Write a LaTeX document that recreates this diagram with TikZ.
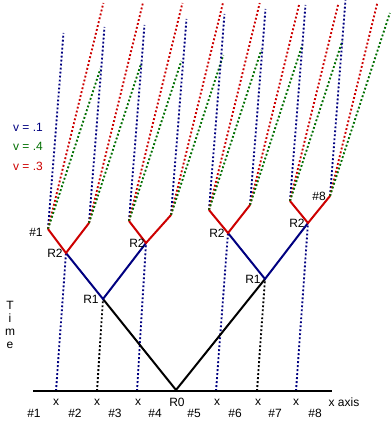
\documentclass[tikz,border=0pt]{standalone}
\usepackage{fontspec}
\setmainfont{Liberation Sans}
\usetikzlibrary{positioning}

\definecolor{navyblue}{RGB}{0,0,128}
\definecolor{darkred}{RGB}{205,0,0}
\definecolor{darkgreen}{RGB}{0,110,0}

\begin{document}
\begin{tikzpicture}[x=0.75pt,y=-0.75pt,
	solid/.style={line width=1.5pt},
	dots/.style={line width=1.4pt,dash pattern=on 1.4pt off 1.6pt},
	lbl/.style={font=\fontsize{9}{10}\selectfont,inner sep=0pt}]
	\useasboundingbox (0,0) rectangle (390,435);

	% collision points
	\coordinate (R0)  at (176,390);
	\coordinate (R1a) at (103,299);
	\coordinate (R1b) at (265,279);
	\coordinate (R2a) at (66,253);
	\coordinate (R2b) at (146,243);
	\coordinate (R2c) at (228,233);
	\coordinate (R2d) at (308,223);

	% x axis
	\coordinate (ax0) at (33,391);
	\coordinate (ax1) at (332,391);
	\foreach \n/\px in {1/56,2/97,3/137,4/216,5/257,6/296}
		\coordinate (a\n) at (\px,391);

	% world lines of the eight pieces
	\foreach \n/\px/\py/\gl in {1/48/229/160,2/89/223/160,3/129/221/160,4/171/215/160,
		5/209/210/160,6/250/205/160,7/290/201/160,8/330/196/183} {
		\coordinate (t\n) at (\px,\py);
		\coordinate (b\n) at (\px+15.5,\py-196);
		\coordinate (g\n) at ({\px+0.327*\gl},\py-\gl);
		\coordinate (r\n) at ({\px+0.245*(\py-3)},3);
		\draw[dots,navyblue]  (t\n) -- (b\n);
		\draw[dots,darkred]   (t\n) -- (r\n);
		\draw[dots,darkgreen] (t\n) -- (g\n);
	}

	\path[dots,navyblue]
	(a1) edge (R2a)
	(a3) edge (R2b)
	(a4) edge (R2c)
	(a6) edge (R2d);
	\path[dots,black]
	(a2) edge (R1a)
	(a5) edge (R1b);

	\draw[line width=2.2pt] (ax0) -- (ax1);
	\draw[solid,black] (R1a) -- (R0) -- (R1b);
	\draw[solid,navyblue] (R2a) -- (R1a) -- (R2b);
	\draw[solid,navyblue] (R2c) -- (R1b) -- (R2d);
	\draw[solid,darkred] (t1) -- (R2a) -- (t2);
	\draw[solid,darkred] (t3) -- (R2b) -- (t4);
	\draw[solid,darkred] (t5) -- (R2c) -- (t6);
	\draw[solid,darkred] (t7) -- (R2d) -- (t8);

	% labels
	\node[lbl] (lR0)  at (177,402) {R0};
	\node[lbl] (lR1a) at (91,299) {R1};
	\node[lbl] (lR1b) at (253,279) {R1};
	\node[lbl] (lR2a) at (55,253) {R2};
	\node[lbl] (lR2b) at (137,243) {R2};
	\node[lbl] (lR2c) at (217,233) {R2};
	\node[lbl] (lR2d) at (297,223) {R2};
	\node[lbl] (tag1) at (36,232) {\#1};
	\node[lbl] (tag8) at (319,196) {\#8};
	\foreach \n/\px in {1/56,2/97,3/138,4/217,5/258,6/296}
		\node[lbl] (x\n) at (\px,402) {x};
	\node[lbl] (xaxis) at (344,402) {x axis};
	\foreach \n/\px in {1/34,2/75,3/115,4/155,5/194,6/235,7/275,8/315}
		\node[lbl] (p\n) at (\px,413) {\#\n};

	\node[lbl,navyblue]  (v1) at (28,127) {v = .1};
	\node[lbl,darkgreen] (v4) at (28,146) {v = .4};
	\node[lbl,darkred]   (v3) at (28,166) {v = .3};

	\node[lbl,align=center,font=\fontsize{9}{9.8}\selectfont] (time) at (10,325) {T\\i\\m\\e};
\end{tikzpicture}
\end{document}
